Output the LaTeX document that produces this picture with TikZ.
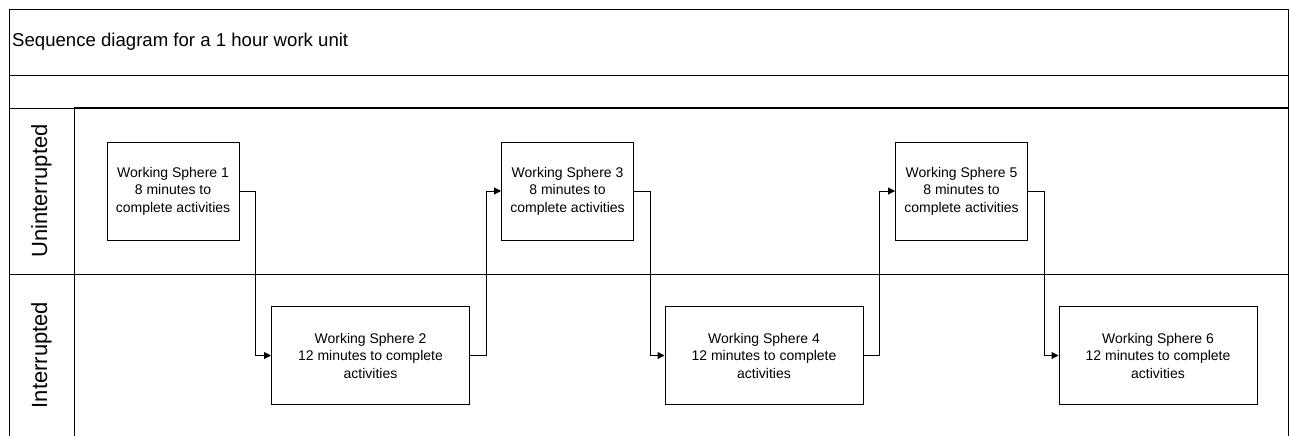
\documentclass[tikz,border=0pt]{standalone}
\usepackage{fontspec}
\setmainfont{Liberation Sans}
\usetikzlibrary{arrows.meta}
\tikzset{
  ws/.style={draw,line width=1pt,minimum width=132pt,minimum height=98pt,inner sep=0pt,align=center,
    font=\fontsize{14}{17.5}\selectfont},
  wsw/.style={ws,minimum width=198pt},
  lane/.style={rotate=90,inner sep=0pt,font=\fontsize{22}{26}\selectfont},
  rule/.style={line width=1pt},
  ar/.style={-{Triangle[length=7pt,width=7pt]},line width=1pt},
}

\begin{document}
\begin{tikzpicture}[x=1pt,y=-1pt]
\useasboundingbox (0,0) rectangle (1289,436);
% frame and lanes
\draw[rule] (9,436) |- (1288,10) -- (1288,436);
\draw[rule] (9,75) -- (1288,75);
\draw[rule] (9,108) -- (74,108);
\draw[line width=2.6pt] (74,108) -- (1288,108);
\draw[rule] (74,108) -- (74,436);
\draw[rule] (9,274) -- (1288,274);
\node[anchor=base west,inner sep=0pt,font=\fontsize{18.6}{22}\selectfont] (title) at (12,47) {Sequence diagram for a 1 hour work unit};
\node[lane] (unint) at (41.5,191) {Uninterrupted};
\node[lane] (inter) at (41.5,355) {Interrupted};
% working spheres
\node[ws] (ws1) at (173,191) {Working Sphere 1\\8 minutes to\\complete activities};
\node[wsw] (ws2) at (370.5,355.5) {Working Sphere 2\\12 minutes to complete\\activities};
\node[ws] (ws3) at (567.5,191) {Working Sphere 3\\8 minutes to\\complete activities};
\node[wsw] (ws4) at (764,355.5) {Working Sphere 4\\12 minutes to complete\\activities};
\node[ws] (ws5) at (961.5,191) {Working Sphere 5\\8 minutes to\\complete activities};
\node[wsw] (ws6) at (1158,355.5) {Working Sphere 6\\12 minutes to complete\\activities};
\draw[ar] (ws1.east) -- ++(16,0) |- (ws2.west);
\draw[ar] (ws2.east) -- ++(16,0) |- (ws3.west);
\draw[ar] (ws3.east) -- ++(16,0) |- (ws4.west);
\draw[ar] (ws4.east) -- ++(16,0) |- (ws5.west);
\draw[ar] (ws5.east) -- ++(16,0) |- (ws6.west);
\end{tikzpicture}
\end{document}
